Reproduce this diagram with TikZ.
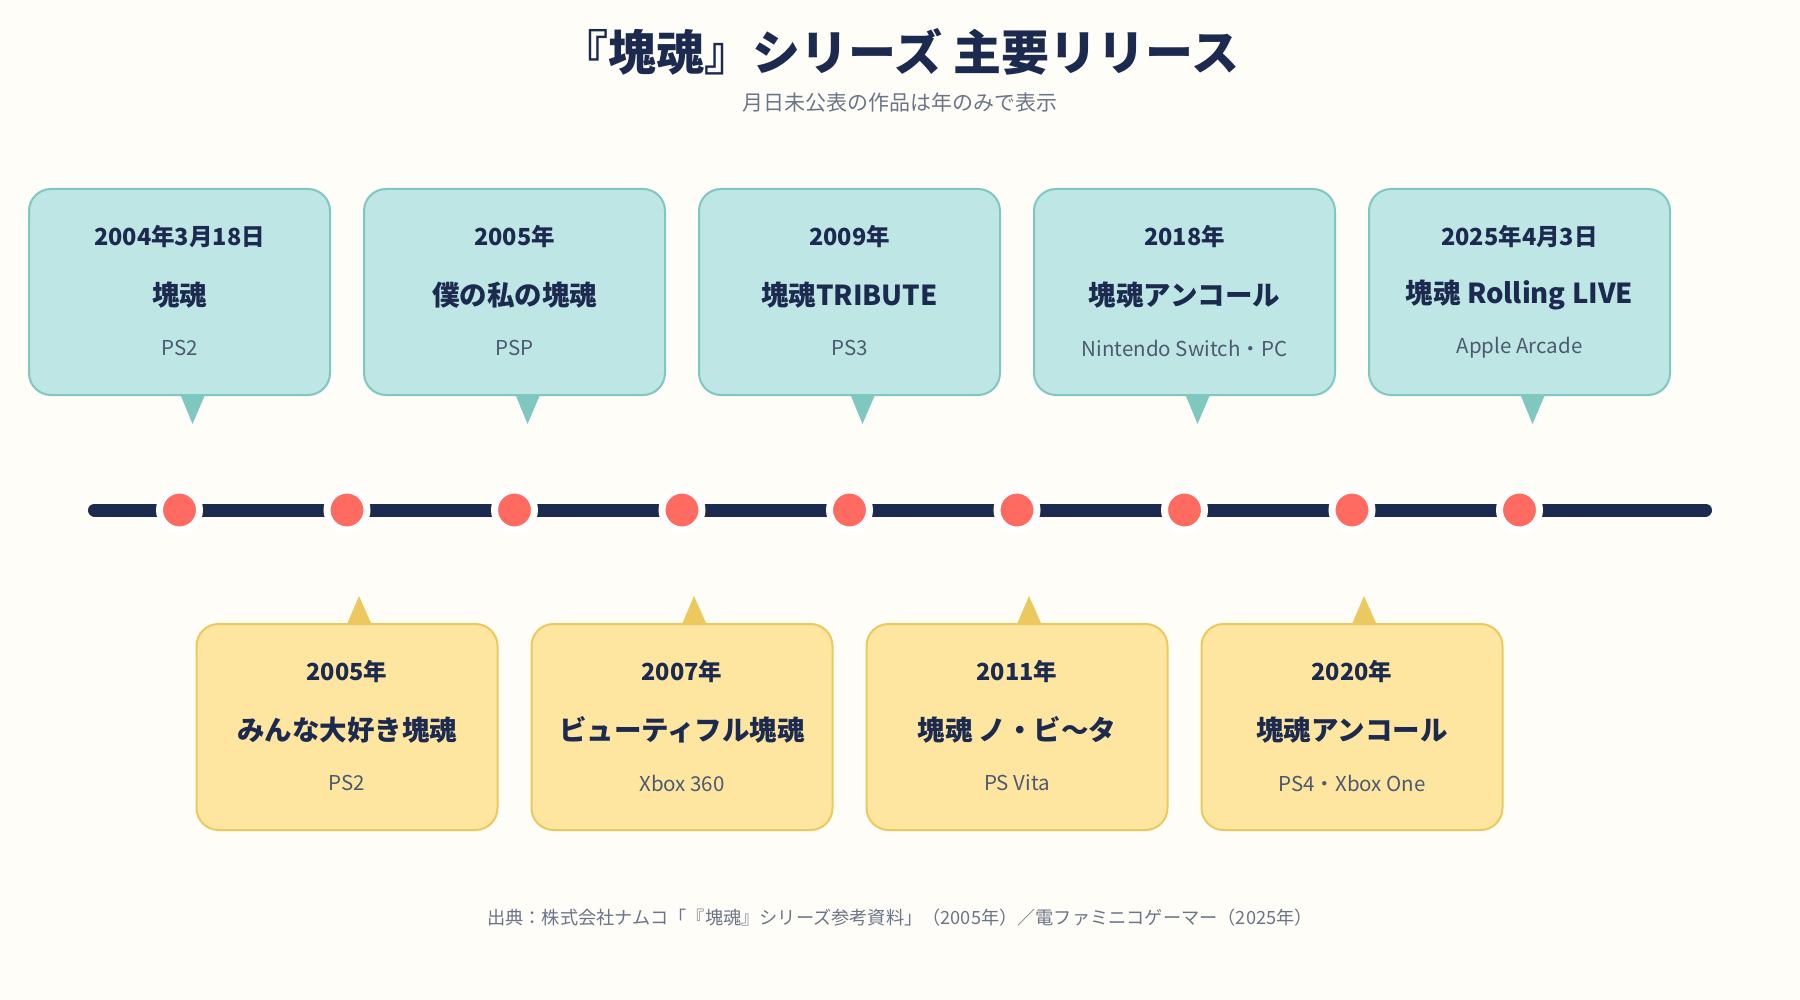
\documentclass[tikz,border=0pt]{standalone}
\usepackage{fontspec}
\setmainfont{Noto Sans CJK JP}
\usetikzlibrary{calc, positioning}

\definecolor{bgcream}{HTML}{FFFDF7}
\definecolor{inkblue}{HTML}{1B2A4E}
\definecolor{greyblue}{HTML}{4C5A70}
\definecolor{mutegrey}{HTML}{6B7588}
\definecolor{coral}{HTML}{FF6B61}
\definecolor{tealfill}{HTML}{BEE6E4}
\definecolor{tealline}{HTML}{7EC8C0}
\definecolor{sandfill}{HTML}{FEE6A1}
\definecolor{sandline}{HTML}{EBC95E}

\begin{document}
\begin{tikzpicture}[x=1pt, y=-1pt,
    card/.style={draw, line width=2pt, rounded corners=22pt, minimum width=301pt,
        minimum height=206pt, outer sep=0pt},
    topcard/.style={card, fill=tealfill, draw=tealline},
    botcard/.style={card, fill=sandfill, draw=sandline},
    datetext/.style={font=\bfseries\fontsize{23.5}{27}\selectfont, text=inkblue},
    nametext/.style={font=\bfseries\fontsize{27.5}{31}\selectfont, text=inkblue},
    systext/.style={font=\fontsize{20.5}{24}\selectfont, text=greyblue},
    yeardot/.style={circle, fill=coral, draw=white, line width=7pt, minimum size=40pt, inner sep=0pt}]

    % page background and fixed frame
    \fill[bgcream] (0,0) rectangle (1800,1000);
    \useasboundingbox (0,0) rectangle (1800,1000);

    % heading
    \node[font=\bfseries\fontsize{48}{53}\selectfont, text=inkblue] (titlelabel) at (900,52)
        {『塊魂』シリーズ 主要リリース};
    \node[font=\fontsize{21}{25}\selectfont, text=mutegrey] (sublabel) at (900,103)
        {月日未公表の作品は年のみで表示};

    % timeline bar: round caps reach just past the end points
    \coordinate (bar-w) at (94.5,510);
    \coordinate (bar-e) at (1705.5,510);
    \draw[inkblue, line width=13pt, line cap=round] (bar-w) -- (bar-e);

    % release dots: dot-\i, odd ones carry the upper cards, even ones the lower
    \foreach \i in {1,...,9} {
        \node[yeardot] (dot-\i) at ({179.5 + (\i-1)*167.5}, 510) {};
    }

    % upper cards (teal), pointer slightly right of centre
    \foreach \n/\date/\title/\sys in {1/2004年3月18日/塊魂/PS2,
            3/2005年/僕の私の塊魂/PSP,
            5/2009年/塊魂TRIBUTE/PS3,
            7/2018年/塊魂アンコール/Nintendo Switch・PC,
            9/2025年4月3日/塊魂 Rolling LIVE/Apple Arcade} {
        \node[topcard, above=115pt of dot-\n.center] (box-\n) {};
        \fill[tealline] ([xshift=1.5pt, yshift=-1pt] box-\n.south)
            -- ([xshift=25pt, yshift=-1pt] box-\n.south)
            -- ([xshift=13pt, yshift=-29pt] box-\n.south) -- cycle;
        \node[datetext] (date-\n) at ([yshift=-48pt] box-\n.north) {\date};
        \node[nametext] (name-\n) at ([yshift=-106pt] box-\n.north) {\title};
        \node[systext] (sys-\n) at ([yshift=-159pt] box-\n.north) {\sys};
    }

    % lower cards (sand)
    \foreach \n/\date/\title/\sys in {2/2005年/みんな大好き塊魂/PS2,
            4/2007年/ビューティフル塊魂/Xbox 360,
            6/2011年/塊魂 ノ・ビ〜タ/PS Vita,
            8/2020年/塊魂アンコール/PS4・Xbox One} {
        \node[botcard, below=114pt of dot-\n.center] (box-\n) {};
        \fill[sandline] ([xshift=0.5pt, yshift=1pt] box-\n.north)
            -- ([xshift=24pt, yshift=1pt] box-\n.north)
            -- ([xshift=12pt, yshift=28pt] box-\n.north) -- cycle;
        \node[datetext] (date-\n) at ([yshift=-48pt] box-\n.north) {\date};
        \node[nametext] (name-\n) at ([yshift=-106pt] box-\n.north) {\title};
        \node[systext] (sys-\n) at ([yshift=-159pt] box-\n.north) {\sys};
    }

    % source line
    \node[font=\fontsize{18.2}{22}\selectfont, text=mutegrey] (srclabel) at (900,918)
        {出典：株式会社ナムコ「『塊魂』シリーズ参考資料」（2005年）／電ファミニコゲーマー（2025年）};
\end{tikzpicture}
\end{document}
